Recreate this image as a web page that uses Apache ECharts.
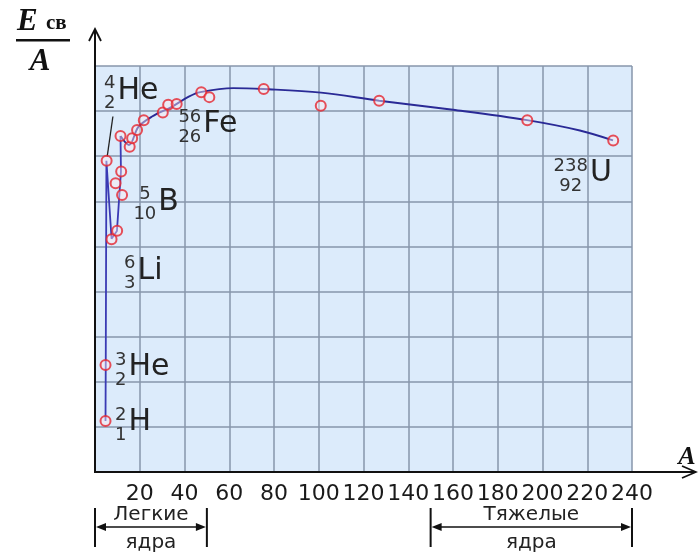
<!DOCTYPE html>
<html><head><meta charset="utf-8">
<script src="https://cdn.jsdelivr.net/npm/echarts@6/dist/echarts.min.js"></script>
<style>html,body{margin:0;padding:0;background:#fff}#c{width:698px;height:558px}</style>
</head><body><div id="c"></div>
<script>
// ---- data ----
const xTickLabels = ['', '20', '40', '60', '80', '100', '120', '140', '160', '180', '200', '220', '240'];
// measured nuclei: [A, Eсв/A]
const nuclidePoints = [
  [4.7, 1.13], [4.7, 2.37], [5.2, 6.90],
  [7.4, 5.16], [9.9, 5.35], [9.2, 6.40], [11.7, 6.66], [12.1, 6.14],
  [11.4, 7.45], [15.5, 7.21], [16.6, 7.40], [18.8, 7.58], [21.8, 7.80],
  [30.3, 7.97], [32.7, 8.14], [36.5, 8.16], [47.5, 8.42], [51.1, 8.31],
  [75.4, 8.49], [100.9, 8.12], [127.0, 8.23], [193.2, 7.80], [231.6, 7.35]
];
// broken part of the curve (lightest nuclei)
const curveLight = [[4.7, 1.13], [4.8, 2.37], [5.1, 6.90], [7.4, 5.17], [9.8, 5.34], [11.6, 6.66], [11.4, 7.45]];
// smooth part of the curve
const curveHeavy = [
  [11.4, 7.45], [15.2, 7.25], [19.4, 7.65], [25.5, 7.88], [34.5, 8.10], [41.9, 8.32],
  [47.1, 8.42], [61.8, 8.51], [75.2, 8.49], [101.0, 8.41], [127.0, 8.23], [160.0, 8.03],
  [193.1, 7.80], [216.7, 7.57], [231.5, 7.35]
];
const leaderLine = [[8.0, 7.88], [5.45, 6.99]];
// nuclide labels
const labelSymbols = ['He', 'Fe', 'B', 'Li', 'He', 'H', 'U'];
const labelUpper   = ['4', '56', '5', '6', '3', '2', '238'];
const labelLower   = ['2', '26', '10', '3', '2', '1', '92'];
const labelA       = [10.0, 48.4, 28.3, 19.0, 15.0, 15.0, 221.2];
const labelE       = [8.45, 7.70, 5.99, 4.46, 2.33, 1.11, 6.63];
// groups under the axis
const groupTop    = ['Легкие', 'Тяжелые'];
const groupBottom = ['ядра', 'ядра'];
const groupFrom   = [0, 150];
const groupTo     = [50, 240];

// ---- chart ----
const SANS = '"DejaVu Sans", sans-serif';
const SERIF = '"Liberation Serif", serif';
const chart = echarts.init(document.getElementById('c'), null, {renderer: 'canvas'});

function renderLabel(params, api) {
  const i = params.dataIndex;
  const p = api.coord([api.value(0), api.value(1)]);
  const up = labelUpper[i], lo = labelLower[i];
  const digitW = 0.636 * 18;
  const maxLen = Math.max(up.length, lo.length);
  const cx = p[0] - 2 - maxLen * digitW / 2;
  const digit = (t, y) => ({type: 'text', x: cx, y: y,
    style: {text: t, fontSize: 18, fontFamily: SANS, fill: '#333', align: 'center', verticalAlign: 'middle'}});
  return {type: 'group', children: [
    {type: 'text', x: p[0], y: p[1],
      style: {text: labelSymbols[i], fontSize: 30, fontFamily: SANS, fill: '#222', align: 'left', verticalAlign: 'middle'}},
    digit(up, p[1] - 7),
    digit(lo, p[1] + 13)
  ]};
}

function renderGroup(params, api) {
  const i = params.dataIndex;
  const xl = api.coord([api.value(0), 0])[0];
  const xr = api.coord([api.value(1), 0])[0];
  const y0 = api.coord([0, 0])[1];
  const yl = y0 + 55;
  const st = {stroke: '#111', lineWidth: 2};
  return {type: 'group', children: [
    {type: 'line', shape: {x1: xl, y1: y0 + 36, x2: xl, y2: y0 + 75}, style: st},
    {type: 'line', shape: {x1: xr, y1: y0 + 36, x2: xr, y2: y0 + 75}, style: st},
    {type: 'line', shape: {x1: xl + 6, y1: yl, x2: xr - 6, y2: yl}, style: {stroke: '#111', lineWidth: 1.6}},
    {type: 'polygon', shape: {points: [[xl + 1, yl], [xl + 11, yl - 4], [xl + 11, yl + 4]]}, style: {fill: '#111'}},
    {type: 'polygon', shape: {points: [[xr - 1, yl], [xr - 11, yl - 4], [xr - 11, yl + 4]]}, style: {fill: '#111'}},
    {type: 'text', x: (xl + xr) / 2, y: y0 + 43,
      style: {text: groupTop[i], fontSize: 20, fontFamily: SANS, fill: '#222', align: 'center', verticalAlign: 'middle'}},
    {type: 'text', x: (xl + xr) / 2, y: y0 + 71,
      style: {text: groupBottom[i], fontSize: 20, fontFamily: SANS, fill: '#222', align: 'center', verticalAlign: 'middle'}}
  ]};
}

function renderAxes(params, api) {
  const o = api.coord([0, 0]);
  const st = {stroke: '#111', lineWidth: 2};
  const ar = {stroke: '#111', lineWidth: 1.8, fill: null};
  return {type: 'group', children: [
    {type: 'line', shape: {x1: o[0], y1: o[1] + 1, x2: o[0], y2: 30}, style: st},
    {type: 'polyline', shape: {points: [[o[0] - 6, 41], [o[0], 29], [o[0] + 6, 41]]}, style: ar},
    {type: 'line', shape: {x1: o[0] - 1, y1: o[1], x2: 695, y2: o[1]}, style: st},
    {type: 'polyline', shape: {points: [[682, o[1] - 6], [696, o[1]], [682, o[1] + 6]]}, style: ar}
  ]};
}

const option = {
  animation: false,
  backgroundColor: '#ffffff',
  grid: {left: 95, right: 66, top: 66, bottom: 86, show: true, backgroundColor: '#dcebfb',
    borderWidth: 0, outerBoundsMode: 'none'},
  xAxis: {
    type: 'value', min: 0, max: 240, interval: 20,
    axisLine: {show: false}, axisTick: {show: false},
    axisLabel: {show: true, margin: 11, fontSize: 22, fontFamily: SANS, color: '#1a1a1a',
      formatter: (v, idx) => xTickLabels[Math.round(v / 20)]},
    splitLine: {show: true, lineStyle: {color: '#8796ab', width: 1.5}}
  },
  yAxis: {
    type: 'value', min: 0, max: 9, interval: 1,
    axisLine: {show: false}, axisTick: {show: false}, axisLabel: {show: false},
    splitLine: {show: true, lineStyle: {color: '#8796ab', width: 1.5}}
  },
  series: [
    {type: 'line', data: curveLight, symbol: 'none', smooth: false, z: 3,
      lineStyle: {color: '#3a3ab4', width: 1.8}},
    {type: 'line', data: curveHeavy, symbol: 'none', smooth: 0.35, z: 3,
      lineStyle: {color: '#2a2a96', width: 1.9}},
    {type: 'line', data: leaderLine, symbol: 'none', z: 3,
      lineStyle: {color: '#222', width: 1.3}},
    {type: 'scatter', data: nuclidePoints, symbol: 'circle', symbolSize: 10, z: 5,
      itemStyle: {color: 'rgba(255,235,240,0.55)', borderColor: '#e5262f', borderWidth: 2}},
    {type: 'custom', renderItem: renderLabel, clip: false, silent: true, z: 6,
      data: labelA.map((a, i) => [a, labelE[i]])},
    {type: 'custom', renderItem: renderGroup, clip: false, silent: true, z: 6,
      data: groupFrom.map((a, i) => [a, groupTo[i]])},
    {type: 'custom', renderItem: renderAxes, clip: false, silent: true, z: 7,
      data: [[0, 0]]}
  ],
  graphic: [
    {type: 'text', x: 17, y: 22, style: {text: 'E', fontSize: 31, fontWeight: 'bold', fontStyle: 'italic',
      fontFamily: SERIF, fill: '#111', verticalAlign: 'middle'}},
    {type: 'text', x: 46, y: 24, style: {text: 'св', fontSize: 21, fontWeight: 'bold',
      fontFamily: SERIF, fill: '#111', verticalAlign: 'middle'}},
    {type: 'rect', shape: {x: 16, y: 39, width: 54, height: 2.5}, style: {fill: '#111'}},
    {type: 'text', x: 40, y: 62, style: {text: 'A', fontSize: 31, fontWeight: 'bold', fontStyle: 'italic',
      fontFamily: SERIF, fill: '#111', align: 'center', verticalAlign: 'middle'}},
    {type: 'text', x: 687, y: 457, style: {text: 'A', fontSize: 26, fontWeight: 'bold', fontStyle: 'italic',
      fontFamily: SERIF, fill: '#111', align: 'center', verticalAlign: 'middle'}}
  ]
};
chart.setOption(option);
</script>
</body></html>
